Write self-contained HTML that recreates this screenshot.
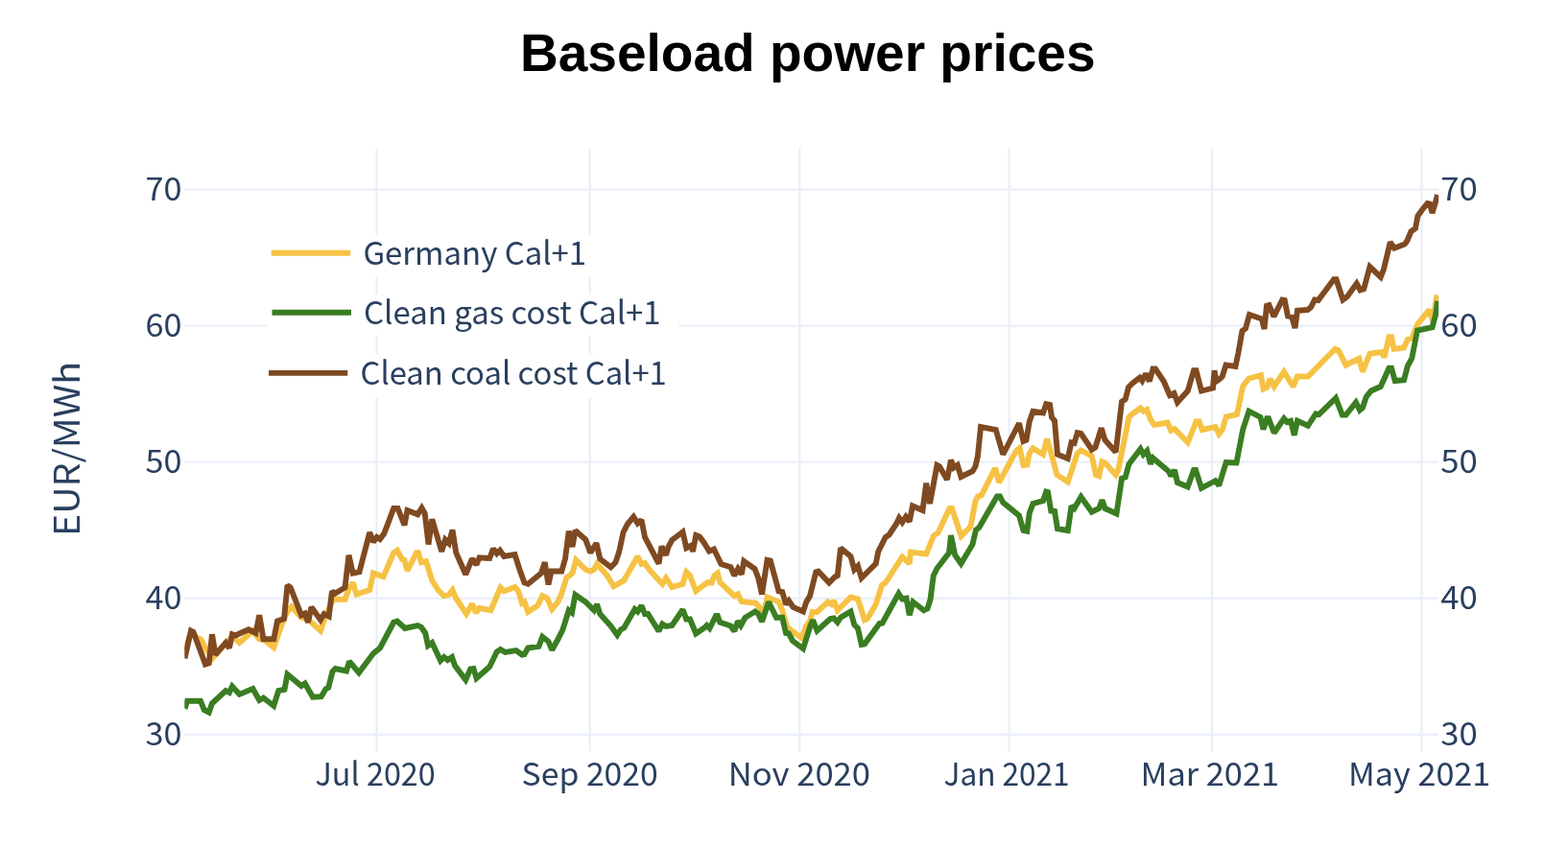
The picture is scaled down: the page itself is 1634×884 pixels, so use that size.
<!DOCTYPE html>
<html lang="en"><head><meta charset="utf-8"><title>Baseload power prices</title>
<style>html,body{margin:0;padding:0;background:#fff}svg{display:block}.t{font-family:"Noto Sans CJK SC","Liberation Sans","DejaVu Sans",sans-serif;font-size:33px;fill:#2a3f5f}.ttl{font-family:"Liberation Sans",Arial,Helvetica,sans-serif;font-weight:bold;font-size:55px;fill:#000}.ln{fill:none;stroke-width:5.9;stroke-linejoin:miter;stroke-miterlimit:2;stroke-linecap:butt}</style></head><body>
<svg width="1634" height="884" viewBox="0 0 1634 884">
<rect width="1634" height="884" fill="#fff"/>
<g stroke="#ebf0f8" stroke-width="2.4">
<line x1="392.6" y1="154.3" x2="392.6" y2="783.5"/>
<line x1="614.7" y1="154.3" x2="614.7" y2="783.5"/>
<line x1="833.2" y1="154.3" x2="833.2" y2="783.5"/>
<line x1="1051.7" y1="154.3" x2="1051.7" y2="783.5"/>
<line x1="1263" y1="154.3" x2="1263" y2="783.5"/>
<line x1="1481.5" y1="154.3" x2="1481.5" y2="783.5"/>
<line x1="192.3" y1="197.6" x2="1499.2" y2="197.6"/>
<line x1="192.3" y1="339.6" x2="1499.2" y2="339.6"/>
<line x1="192.3" y1="481.65" x2="1499.2" y2="481.65"/>
<line x1="192.3" y1="623.7" x2="1499.2" y2="623.7"/>
<line x1="192.3" y1="765.7" x2="1499.2" y2="765.7"/>
</g>
<rect x="278.5" y="245.8" width="428.8" height="42" fill="#fff"/>
<rect x="278.5" y="307.2" width="428.8" height="42.5" fill="#fff"/>
<rect x="276" y="369.4" width="428.8" height="45.8" fill="#fff"/>
<clipPath id="pc"><rect x="192.3" y="150" width="1306.9" height="640"/></clipPath><g clip-path="url(#pc)">
<polyline class="ln" stroke="#f6c244" points="192.5,677.5 199,660 205.25,665 209,666.25 215.25,677.5 221.5,686.25 235.25,670 242.75,663.75 249.5,670 263.5,657.5 270.25,666.25 274.5,666.25 285.25,675 294,650 299.5,637.5 304,632.5 314,643.75 320.25,645 334,657.5 339,642.5 346,627.5 349,624.5 359.5,625 363.5,613.75 367.75,607.5 371.5,619.5 385.25,615 389,597.5 399.5,601.25 410.25,576.25 414,573.75 419,583 421.5,583.75 424.5,595 434,576.25 436,576.25 439,586.25 444,585 450.25,605 456.5,615 462.75,621.25 467.75,620 471.5,615 475.25,623.75 486,640 492,629.5 496,638.75 499.5,633.75 511.5,636.25 521.5,612.5 525.25,616.25 536.5,612 540.25,616.25 544,628.75 546.5,627.5 550.25,638 560.25,631.25 565.25,621.25 570.25,623.75 575.25,635 581.5,627.5 585.25,618.75 590.25,602.5 596.5,597.5 600.25,583.75 610.25,593.75 615.25,595.5 619,593.75 622,588 625.25,591.25 632.75,600 639.5,611.25 650.25,605 664.5,580 668.5,588 672,587 676.5,593.75 690.25,608.75 694,602.5 700.25,612 711.5,608.75 715.25,596.25 719,600 725.25,616.25 734,609.5 737.75,607 741.5,607.5 744.5,600 747.75,597.5 750.25,607 765.25,621.25 769,619.5 772.75,627 787.75,628.75 792,633.75 795.25,642.5 799.5,622.5 811.5,627.5 815.25,636.25 820.25,653.75 826.5,658.75 835.25,665 840.25,652.5 844,647.5 846.5,638 851.5,638 862.75,627.5 866.5,630 869,626.25 872.75,636.25 886.5,622.5 894,624.5 901,646.25 904,645 912.75,630 919,610 922.75,607.5 940.25,580.5 947.75,587.5 949,575.5 965.25,577.5 972.75,558.75 977.75,555 989.5,530 992,530 1001.5,558.75 1011.5,548.75 1016.5,522.5 1019,517.5 1022.75,516.25 1036,490 1037.75,490 1041,503 1059,470 1062.75,467 1066.5,485 1070.25,484.5 1072.75,472.5 1076.5,467.5 1087,473.75 1091,457.5 1094,467.5 1101.5,495 1112.75,502.5 1122.75,472.5 1126.5,469.5 1137.75,475.5 1142,495 1145.25,496.25 1148.5,481.25 1151.5,482.5 1162.75,495 1165.25,490 1176.5,435 1180.25,431.25 1188.5,425.5 1191.5,428.75 1195.25,427 1199,437.5 1202.75,443 1216.5,440.5 1220.25,448.75 1224,447 1237.75,461.25 1246.5,439.5 1249.5,439.5 1252.75,448 1266.5,445 1270.25,452.5 1274,447.5 1277.75,434.5 1289,432 1295.25,402.5 1301.5,394.5 1314,391.25 1316.5,405.5 1320.25,403.75 1323.5,395 1327.75,403 1338,387.5 1347.5,403 1352,392.5 1363,392.5 1391.25,363.75 1395,365.5 1402.5,380.5 1416.25,373.75 1420,387.5 1427.5,368.75 1440,367 1442.5,372.5 1447.5,351.25 1450,351.25 1452.5,363.75 1463,362.5 1467,353.75 1471.25,352.5 1477.5,337.5 1489.5,323 1493,335 1497.5,307.5"/>
<polyline class="ln" stroke="#3a7d22" points="192.5,738.75 195,730.75 209,730.75 212.75,740 217.75,742.5 221,733.25 235.25,720 239,722 242,715.5 249.5,723.75 263.5,718 270.25,730 274.5,727.5 285.25,735.75 290.25,720 296.5,718.75 299.5,703 314,715 317.75,712.5 326,726.75 334.75,726.25 339.5,718.25 342.25,716.75 346.5,700 349.5,697 361,699.5 364,689.5 374,701.25 389,681.25 396,675.5 410.25,648.75 414,647.5 422,655 435.25,652 439,653.75 443.25,660 446,673 450.25,670 459,688.75 462.75,685 466.5,688 471,685 474,693.75 485.25,708.75 490.25,697.5 493.5,697 496.5,707 510.25,695 517.75,679.5 521.5,677 526.5,680 537.75,678 544,682.5 546.5,682 550.25,675.5 561.5,673.75 565.25,663.75 571.5,668.75 575.25,677.5 581.5,666.25 586.5,656.25 592.75,636.25 596,638.75 599.5,620 610.25,627.5 619,636.25 622,630 625.25,640 636.5,652.5 643.25,662 647,656.25 650.25,654.5 661.5,635 664.5,637.5 668.5,631.25 672,640 675.25,640 686.5,658 690.25,650.5 694,653 700.25,652 711.5,635.5 715.25,645.5 719,645.5 725.25,660.5 734,654.5 736.5,652 739.5,655 746,642 747.75,642 750.25,648.75 761.5,652.5 765.25,658 769,647.5 772,652 776.5,643.75 787,637.5 790.25,640 794,648 801,627.5 809,643.75 815.25,643.75 819,660 822,660.5 826,668 837,676.25 844,653.75 847,646.25 851.5,657.5 865.25,645 869,644.5 872.75,648.75 876,643.75 886.5,637.5 890.25,651.25 894,655 897.75,672 901,671.25 916.5,650 919.5,649.5 936.5,618.75 940.25,624.5 944.5,623.75 947.75,641.25 951.5,627.5 962.75,636.25 966.5,634.5 969.5,625 972.75,600 976.5,592.5 989,576.25 991,558 995.25,578.75 1001.5,587.5 1013.5,567.5 1017,552.5 1020.25,550 1039,517.5 1042,517.5 1045.25,523.75 1062,537.5 1066.5,553 1070.25,553.75 1072.75,535 1076.5,525 1087,522 1090.25,512.5 1092,513 1095.25,532.5 1099,533 1102,551.25 1112.75,553 1116.5,527.5 1119.5,530 1126.5,518 1137.75,533.75 1145.25,530 1148.5,521.25 1151.5,530 1163.5,535.5 1169,498.75 1172.75,497.5 1176.5,483.75 1188.5,468 1191.5,473.75 1195.25,470 1199,483.75 1201.5,477.5 1217.75,491.25 1220.25,496.25 1224,490 1227,503 1237.75,507.5 1244,490 1246,490 1252,508.75 1266.5,501.25 1270.25,506.25 1277.75,482 1288.5,482.5 1295.25,447.5 1301.5,428.75 1313.5,435 1316.5,447.5 1320.25,436.25 1322,436.25 1327.75,451.25 1338,436.25 1341.25,440 1345,438.75 1348.75,453.75 1352,438.75 1363,443.75 1371.25,431.25 1374.5,432 1392,415 1398.75,432.5 1402.5,432.5 1413,419.5 1417,427.5 1420,425 1423.75,413.75 1428.75,407.5 1438.75,403 1447.5,383.75 1450,383.75 1453.75,397 1463,396.25 1467,381.25 1471.25,373.75 1477,344.5 1492.5,341.25 1496.25,327.5 1498,313.75"/>
<polyline class="ln" stroke="#7f4a21" points="192.5,686.25 199,657.5 201.5,658.75 214,692.5 217.75,691.25 221,661.25 224.5,682.5 235.25,670 239,675.5 242,661.25 245.25,662.5 259,656.25 266.5,660 270.25,641.25 274.5,666.25 285.25,666.25 289,647.5 296,645 299.5,610 302.75,612.5 314,641.25 317.75,639.5 321,648.75 324.5,633 334,646.25 337.75,640 342.75,642.5 346,616.25 349,618.75 359.5,612.5 363.5,578.75 367.75,597.5 374.5,596.25 385.25,555 389,565 392.75,560 396,562 400.25,556.25 410.25,530 414.5,530 421.5,547.5 424.5,532 435.25,536.25 439.5,529.5 442.75,535.5 446.5,567.5 450.25,541.25 460.25,575 464,562.5 467.75,566.25 471.5,552.5 475.25,576.25 485.25,598.75 492,582.5 496.5,588.75 499.5,581.25 510.25,582 514,572 517.75,577 521,573.75 525.25,580 536.5,578 541.5,593.75 546.5,607.5 550.25,608.75 564,597.5 567.75,586.25 571.5,609.5 574.5,595.5 585.25,595.5 589,582.5 592.75,553.75 596.5,570 599.5,553 610.25,562.5 615.25,576.25 621.5,566.25 625.25,582.5 636.5,591.25 641.5,586.25 645.25,575 649.5,555 654,546.25 660.25,538.75 664.5,545.5 668.5,542 672,560 686.5,587.5 689.5,569.5 694,578.75 696.5,570 700.25,563 711.5,554.5 715.25,571.25 720.25,568.75 722,575 725.25,558 729,559.5 734,566.25 739,574.5 744,572.5 751.5,588 761.5,591.25 765.25,600 769,593 772.75,598.75 775.25,585 786.5,593 790.25,602.5 794,619.5 799.5,583.75 802.75,584.5 811.5,616.25 815.25,617 819,630 822,626.25 826.5,633 837,637.5 840.25,627.5 844,621.25 850.25,596.25 852.75,595.5 864,607.5 870.25,601.25 872.75,600 876,571.25 886.5,580 890.25,593.75 894,590 897.75,602.5 912.75,587.5 915.25,575 919,567.5 922.75,560 926.5,557.5 934,546.25 937,540 940.25,544.5 944,538.75 947.75,543.75 951,527.5 961.5,532 965.25,503.75 969,525 972.75,505 976.5,485 979,486.25 987,500 991,479.5 994,487.5 997.75,485 1001.5,497 1013.5,491.25 1016.5,486.25 1019,475 1022,445 1037.75,448 1045.25,473.75 1062,441.25 1066.5,460 1069.5,458.75 1072.75,439.5 1076.5,428.75 1087,430.5 1090.25,421.25 1094,422 1096,435 1099,438.75 1102,473.75 1112.75,478 1116.5,461.25 1119.5,462 1122.75,451.25 1126.5,452 1137.75,468.75 1141.5,466.25 1147.75,446.25 1151.5,458.75 1162.75,471.25 1169,418.75 1172.75,416.25 1176,403.75 1180.25,399.5 1187.75,393.75 1190.25,397 1194,389.5 1197.75,397.5 1201.5,384.5 1204,384.5 1212.75,397.5 1219,412 1223.5,410 1227,419.5 1237.75,407.5 1244,386.25 1246.5,386.25 1252,407.5 1264,404.5 1265.5,386.25 1267.5,397.5 1271.25,395 1273.75,392.5 1277.5,380.5 1287.5,382 1290.5,367.5 1294.5,345 1298,342.5 1302,328 1315,332.5 1317.5,343 1320,318.75 1322.5,318 1327.5,330 1336.25,312.5 1338.75,313 1342,329.5 1346.25,330.5 1349.5,342 1352,323.75 1362.5,323 1366.25,320 1370,312.5 1373.75,313 1390,291.25 1392.5,291.25 1399.5,312.5 1403.75,309.5 1413.75,295.5 1417.5,302.5 1421.25,301.25 1427.5,278 1438.75,288.75 1442,280.5 1448.75,252.5 1453,258.75 1463.75,254.5 1466.25,251.25 1470.5,241.25 1475,238 1477.5,225 1482,218.75 1487.5,212 1490,212.5 1492.5,222 1495.5,212.5 1498,203"/>
</g>
<g stroke-width="5.9">
<line x1="282.7" y1="263.7" x2="365.2" y2="263.7" stroke="#f6c244"/>
<line x1="283.5" y1="325.8" x2="366" y2="325.8" stroke="#3a7d22"/>
<line x1="280" y1="388.9" x2="362.3" y2="388.9" stroke="#7f4a21"/>
</g>
<text class="t" x="378.4" y="276.1" text-anchor="start" textLength="232.7" lengthAdjust="spacingAndGlyphs">Germany Cal+1</text>
<text class="t" x="379" y="338.2" text-anchor="start" textLength="309.6" lengthAdjust="spacingAndGlyphs">Clean gas cost Cal+1</text>
<text class="t" x="375.5" y="401.4" text-anchor="start" textLength="319.3" lengthAdjust="spacingAndGlyphs">Clean coal cost Cal+1</text>
<text class="t" x="151.5" y="209.1" text-anchor="start" textLength="38" lengthAdjust="spacingAndGlyphs">70</text>
<text class="t" x="1501.2" y="209.1" text-anchor="start" textLength="38.5" lengthAdjust="spacingAndGlyphs">70</text>
<text class="t" x="151.5" y="351.1" text-anchor="start" textLength="38" lengthAdjust="spacingAndGlyphs">60</text>
<text class="t" x="1501.2" y="351.1" text-anchor="start" textLength="38.5" lengthAdjust="spacingAndGlyphs">60</text>
<text class="t" x="151.5" y="493.15" text-anchor="start" textLength="38" lengthAdjust="spacingAndGlyphs">50</text>
<text class="t" x="1501.2" y="493.15" text-anchor="start" textLength="38.5" lengthAdjust="spacingAndGlyphs">50</text>
<text class="t" x="151.5" y="635.2" text-anchor="start" textLength="38" lengthAdjust="spacingAndGlyphs">40</text>
<text class="t" x="1501.2" y="635.2" text-anchor="start" textLength="38.5" lengthAdjust="spacingAndGlyphs">40</text>
<text class="t" x="151.5" y="777.2" text-anchor="start" textLength="38" lengthAdjust="spacingAndGlyphs">30</text>
<text class="t" x="1501.2" y="777.2" text-anchor="start" textLength="38.5" lengthAdjust="spacingAndGlyphs">30</text>
<text class="t" x="328.5" y="818.6" text-anchor="start" textLength="125.3" lengthAdjust="spacingAndGlyphs">Jul 2020</text>
<text class="t" x="543.6" y="818.6" text-anchor="start" textLength="142.2" lengthAdjust="spacingAndGlyphs">Sep 2020</text>
<text class="t" x="758.7" y="818.6" text-anchor="start" textLength="148.3" lengthAdjust="spacingAndGlyphs">Nov 2020</text>
<text class="t" x="983.5" y="818.6" text-anchor="start" textLength="131.1" lengthAdjust="spacingAndGlyphs">Jan 2021</text>
<text class="t" x="1188.5" y="818.6" text-anchor="start" textLength="144.6" lengthAdjust="spacingAndGlyphs">Mar 2021</text>
<text class="t" x="1405" y="818.6" text-anchor="start" textLength="148.3" lengthAdjust="spacingAndGlyphs">May 2021</text>
<text class="t" style="font-size:36.5px" transform="translate(83,468) rotate(-90)" text-anchor="middle" textLength="182" lengthAdjust="spacingAndGlyphs">EUR/MWh</text>
<text class="ttl" x="542" y="73.5" text-anchor="start" textLength="599.5" lengthAdjust="spacingAndGlyphs">Baseload power prices</text>
</svg></body></html>
